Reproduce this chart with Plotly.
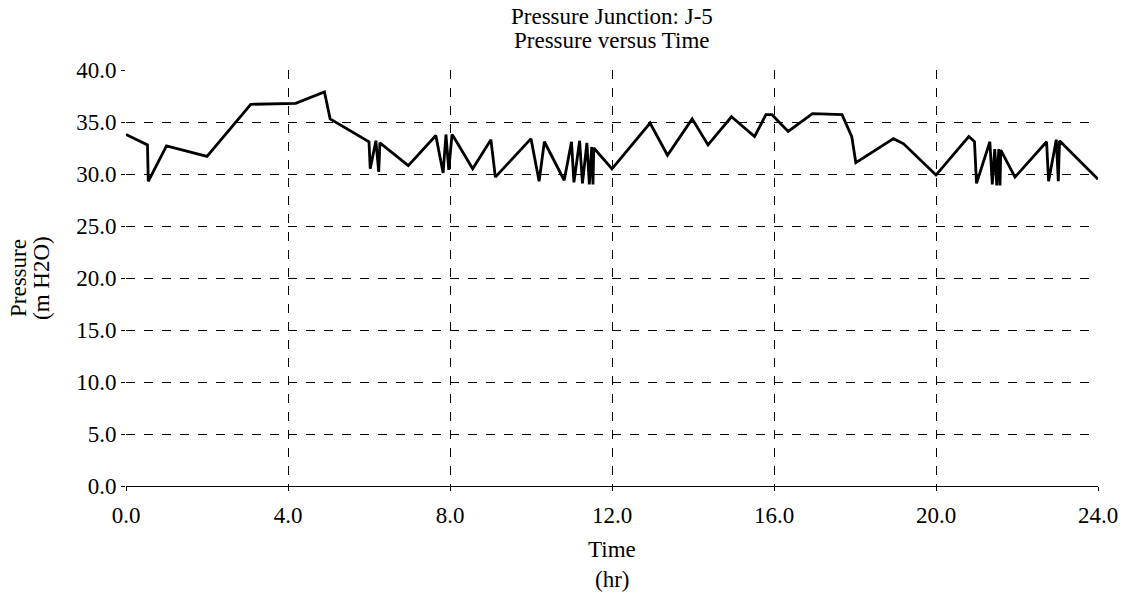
import plotly.graph_objects as go

time_hr = [0.0, 0.53, 0.55, 1.0, 2.0, 3.08, 4.19, 4.9, 5.04, 6.0, 6.03, 6.17, 6.24, 6.27,
           6.97, 7.65, 7.83, 7.9, 7.97, 8.05, 8.1, 8.56, 9.01, 9.12, 10.0, 10.2, 10.33,
           10.82, 11.0, 11.06, 11.2, 11.27, 11.38, 11.44, 11.5, 11.53, 11.55, 12.0,
           12.94, 13.37, 13.98, 14.37, 14.95, 15.52, 15.8, 15.95, 16.35, 16.95, 17.68,
           17.92, 18.02, 18.95, 19.2, 20.0, 20.81, 20.95, 21.0, 21.33, 21.39, 21.45,
           21.5, 21.55, 21.58, 21.6, 21.95, 22.73, 22.78, 22.97, 23.02, 23.05, 24.0]
pressure_m = [33.8, 32.8, 29.3, 32.7, 31.7, 36.7, 36.8, 37.9, 35.3, 33.1, 30.5, 33.2, 30.2, 33.0,
              30.8, 33.7, 30.1, 33.8, 30.4, 33.8, 33.5, 30.5, 33.3, 29.7, 33.4, 29.3, 33.1,
              29.4, 33.1, 29.2, 33.2, 29.1, 33.0, 29.0, 32.6, 29.0, 32.5, 30.5,
              34.9, 31.8, 35.3, 32.8, 35.5, 33.6, 35.7, 35.7, 34.1, 35.8, 35.7,
              33.6, 31.1, 33.4, 32.9, 29.9, 33.6, 33.1, 29.1, 33.1, 29.0, 32.4,
              28.9, 32.4, 28.9, 32.3, 29.7, 33.1, 29.3, 33.3, 29.3, 33.2, 29.5]

x_ticks = [0, 4, 8, 12, 16, 20, 24]
x_labels = ["0.0", "4.0", "8.0", "12.0", "16.0", "20.0", "24.0"]
y_ticks = [0, 5, 10, 15, 20, 25, 30, 35, 40]
y_labels = ["0.0", "5.0", "10.0", "15.0", "20.0", "25.0", "30.0", "35.0", "40.0"]

FONT = "Liberation Serif"
FS = 23

fig = go.Figure()
fig.add_trace(go.Scatter(x=time_hr, y=pressure_m, mode="lines",
                         line=dict(color="black", width=2.8), showlegend=False))

fig.update_layout(
    width=1130, height=599,
    margin=dict(l=126, r=30, t=70, b=113),
    paper_bgcolor="white", plot_bgcolor="white",
    font=dict(family=FONT, size=FS, color="black"),
    xaxis=dict(range=[0, 24], tickvals=x_ticks, ticktext=x_labels,
               showgrid=True, gridcolor="black", gridwidth=1, griddash="dash",
               zeroline=False, showline=True, linecolor="black", linewidth=1,
               ticks="outside", ticklen=4, tickcolor="black", ticklabelstandoff=4,
               tickfont=dict(family=FONT, size=FS)),
    yaxis=dict(range=[0, 40], tickvals=y_ticks, ticktext=y_labels,
               showgrid=True, gridcolor="black", gridwidth=1, griddash="dash",
               zeroline=False, showline=False,
               ticks="outside", ticklen=4, tickcolor="black",
               tickfont=dict(family=FONT, size=FS)),
    annotations=[
        dict(text="Pressure Junction: J-5", xref="paper", yref="paper", x=0.5, y=1,
             yshift=54, xanchor="center", yanchor="middle", showarrow=False,
             font=dict(family=FONT, size=FS)),
        dict(text="Pressure versus Time", xref="paper", yref="paper", x=0.5, y=1,
             yshift=30, xanchor="center", yanchor="middle", showarrow=False,
             font=dict(family=FONT, size=FS)),
        dict(text="Time", xref="paper", yref="paper", x=0.5, y=0,
             yshift=-63, xanchor="center", yanchor="middle", showarrow=False,
             font=dict(family=FONT, size=FS)),
        dict(text="(hr)", xref="paper", yref="paper", x=0.5, y=0,
             yshift=-93, xanchor="center", yanchor="middle", showarrow=False,
             font=dict(family=FONT, size=FS)),
        dict(text="Pressure", xref="paper", yref="paper", x=0, y=0.5,
             xshift=-108, xanchor="center", yanchor="middle", showarrow=False,
             textangle=-90, font=dict(family=FONT, size=FS)),
        dict(text="(m H2O)", xref="paper", yref="paper", x=0, y=0.5,
             xshift=-85, xanchor="center", yanchor="middle", showarrow=False,
             textangle=-90, font=dict(family=FONT, size=FS)),
    ],
)

fig.write_html("out.html")
